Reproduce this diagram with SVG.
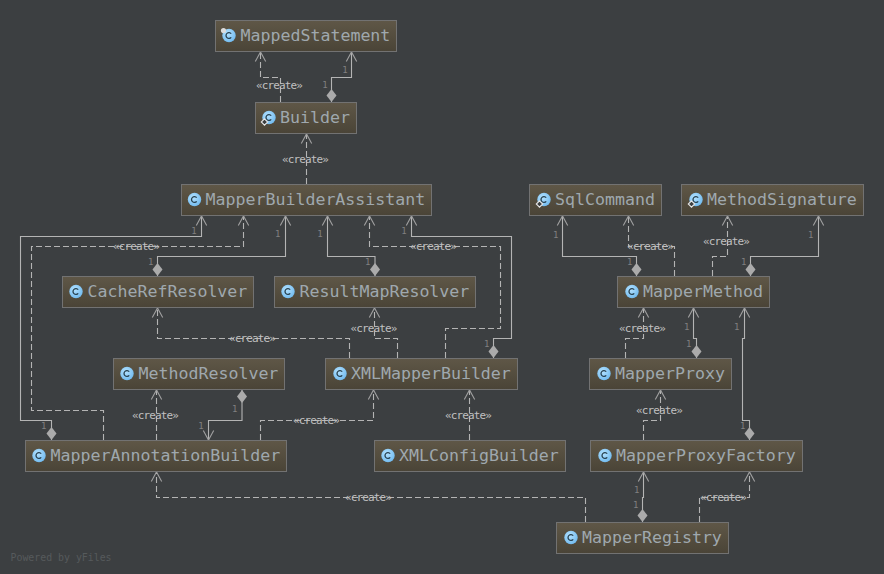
<svg xmlns="http://www.w3.org/2000/svg" xmlns:xlink="http://www.w3.org/1999/xlink" width="884" height="574" viewBox="0 0 884 574">
<style>
.n rect{fill:url(#nodeFill);stroke:#727272;stroke-width:1}
.n text{font-family:"DejaVu Sans Mono","Liberation Mono",monospace;font-size:16.6px;fill:#9fa8ae}
.e{fill:none;stroke:#b4b4b4;stroke-width:1.1;marker-end:url(#arrow)}
.s{marker-start:url(#diamond)}
.d{stroke-dasharray:6 3}
.l{font-family:"DejaVu Sans Mono","Liberation Mono",monospace;font-size:11px;letter-spacing:-0.9px;fill:#c0c0c0;text-anchor:middle}
.m{font-family:"DejaVu Sans Mono","Liberation Mono",monospace;font-size:9px;fill:#808080;text-anchor:middle}
.w{font-family:"DejaVu Sans Mono","Liberation Mono",monospace;font-size:9.9px;fill:#565a5c}
</style>
<defs>
<linearGradient id="nodeFill" x1="0" y1="0" x2="0" y2="1"><stop offset="0" stop-color="#5f5747"/><stop offset="1" stop-color="#4a4437"/></linearGradient>
<radialGradient id="ball" cx="0.4" cy="0.35" r="0.7"><stop offset="0" stop-color="#b4e2ff"/><stop offset="1" stop-color="#6fb9ee"/></radialGradient>
<marker id="arrow" markerUnits="userSpaceOnUse" markerWidth="14" markerHeight="14" refX="11" refY="6" orient="auto" overflow="visible"><path d="M1.5 0.8L11 6L1.5 11.2" fill="none" stroke="#a0a0a0" stroke-width="1.1"/></marker>
<marker id="diamond" markerUnits="userSpaceOnUse" markerWidth="14" markerHeight="12" refX="0" refY="5" orient="auto" overflow="visible"><path d="M0 5L6.5 0L13 5L6.5 10Z" fill="#ababab"/></marker>
<g id="cls"><circle r="6.7" fill="url(#ball)"/><path d="M2.2 -1.8A2.9 2.9 0 1 0 2.2 1.8" fill="none" stroke="#26404f" stroke-width="1.3"/></g>
<path id="inner" d="M0 -3.2L3.2 0L0 3.2L-3.2 0Z" fill="#3c3f41" stroke="#e6e6e6" stroke-width="1.1"/>
<circle id="pin" r="2.6" fill="#dcdcdc"/>
</defs>
<rect width="884" height="574" fill="#3c3f41"/>
<g id="connectors">
<path class="e d" d="M280.5 102V77.5H260.5V52"/>
<path class="e s" d="M331.5 102V77.5H351.5V52"/>
<path class="e d" d="M306.5 184V134"/>
<path class="e s" d="M51.5 440V420.5H20.5V236.5H201.5V216"/>
<path class="e d" d="M103.5 440V410.5H31.5V246.5H243.5V216"/>
<path class="e s" d="M157.5 276V256.5H285.5V216"/>
<path class="e s" d="M375 276V256.5H327.5V216"/>
<path class="e d" d="M445.5 358V328.5H500.5V246.5H369.5V216"/>
<path class="e s" d="M493.5 358V338.5H511.5V236.5H411.5V216"/>
<path class="e d" d="M349.5 358V338.5H157.5V308"/>
<path class="e d" d="M397.5 358V338.5H374.5V308"/>
<path class="e d" d="M156.5 440V390"/>
<path class="e s" d="M242 390V420.5H208.5V440"/>
<path class="e d" d="M260.5 440V420.5H373.5V390"/>
<path class="e d" d="M469.5 440V390"/>
<path class="e s" d="M636.5 276V256.5H562.5V216"/>
<path class="e d" d="M674.5 276V246.5H628.5V216"/>
<path class="e d" d="M712.5 276V256.5H727.5V216"/>
<path class="e s" d="M750.5 276V256.5H818.5V216"/>
<path class="e d" d="M625.5 358V338.5H643.5V308"/>
<path class="e s" d="M696.5 358V338.5H693.5V308"/>
<path class="e s" d="M749.5 440V420.5H742.5V338.5H744.5V308"/>
<path class="e d" d="M643.5 440V420.5H660.5V390"/>
<path class="e s" d="M642.5 522V497.5H643.5V472"/>
<path class="e d" d="M699.5 522V497.5H749.5V472"/>
<path class="e d" d="M585.5 522V497.5H156.5V472"/>
<text class="l" x="279" y="89">«create»</text>
<text class="l" x="305" y="162.5">«create»</text>
<text class="l" x="136" y="250">«create»</text>
<text class="l" x="433" y="250">«create»</text>
<text class="l" x="252" y="342">«create»</text>
<text class="l" x="373.5" y="332">«create»</text>
<text class="l" x="155" y="419">«create»</text>
<text class="l" x="316" y="424">«create»</text>
<text class="l" x="468" y="419">«create»</text>
<text class="l" x="650" y="250">«create»</text>
<text class="l" x="726" y="245">«create»</text>
<text class="l" x="642" y="332">«create»</text>
<text class="l" x="659" y="414">«create»</text>
<text class="l" x="723" y="501">«create»</text>
<text class="l" x="368" y="501">«create»</text>
<text class="m" x="345" y="73">1</text>
<text class="m" x="325" y="88">1</text>
<text class="m" x="194" y="234">1</text>
<text class="m" x="277.7" y="237">1</text>
<text class="m" x="150.7" y="265">1</text>
<text class="m" x="320" y="237">1</text>
<text class="m" x="367.7" y="265">1</text>
<text class="m" x="404" y="234">1</text>
<text class="m" x="486.7" y="346.5">1</text>
<text class="m" x="43.7" y="429">1</text>
<text class="m" x="234.7" y="412">1</text>
<text class="m" x="201" y="429">1</text>
<text class="m" x="555.7" y="237.5">1</text>
<text class="m" x="629.7" y="264.5">1</text>
<text class="m" x="810.7" y="237.5">1</text>
<text class="m" x="743.7" y="264.5">1</text>
<text class="m" x="686.7" y="330">1</text>
<text class="m" x="688.7" y="346.5">1</text>
<text class="m" x="736.7" y="330">1</text>
<text class="m" x="742.7" y="428.5">1</text>
<text class="m" x="636.7" y="492.5">1</text>
<text class="m" x="635.7" y="507.5">1</text>
</g>
<g id="MappedStatement" class="n"><rect x="215.5" y="20.5" width="181" height="31"/><use xlink:href="#cls" x="229" y="35.5"/><use xlink:href="#pin" x="223.5" y="30.5"/><text x="240.5" y="41">MappedStatement</text></g>
<g id="Builder" class="n"><rect x="255.5" y="102.5" width="101" height="31"/><use xlink:href="#cls" x="269" y="117.5"/><use xlink:href="#inner" x="264.5" y="122"/><text x="280" y="123">Builder</text></g>
<g id="MapperBuilderAssistant" class="n"><rect x="181.5" y="184.5" width="250" height="31"/><use xlink:href="#cls" x="194.5" y="199.5"/><text x="205.5" y="205">MapperBuilderAssistant</text></g>
<g id="CacheRefResolver" class="n"><rect x="62.5" y="276.5" width="191" height="31"/><use xlink:href="#cls" x="76" y="291.5"/><text x="87.5" y="297">CacheRefResolver</text></g>
<g id="ResultMapResolver" class="n"><rect x="274.5" y="276.5" width="201" height="31"/><use xlink:href="#cls" x="288" y="291.5"/><text x="299.5" y="297">ResultMapResolver</text></g>
<g id="MethodResolver" class="n"><rect x="113.5" y="358.5" width="171" height="31"/><use xlink:href="#cls" x="127" y="373.5"/><text x="138.5" y="379">MethodResolver</text></g>
<g id="XMLMapperBuilder" class="n"><rect x="325.5" y="358.5" width="192" height="31"/><use xlink:href="#cls" x="340" y="373.5"/><text x="351" y="379">XMLMapperBuilder</text></g>
<g id="MapperAnnotationBuilder" class="n"><rect x="25.5" y="440.5" width="261" height="31"/><use xlink:href="#cls" x="39" y="455.5"/><text x="50.5" y="461">MapperAnnotationBuilder</text></g>
<g id="XMLConfigBuilder" class="n"><rect x="374.5" y="440.5" width="191" height="31"/><use xlink:href="#cls" x="388" y="455.5"/><text x="399" y="461">XMLConfigBuilder</text></g>
<g id="SqlCommand" class="n"><rect x="529.5" y="184.5" width="132" height="31"/><use xlink:href="#cls" x="544" y="199.5"/><use xlink:href="#inner" x="539.5" y="204"/><text x="555" y="205">SqlCommand</text></g>
<g id="MethodSignature" class="n"><rect x="681.5" y="184.5" width="182" height="31"/><use xlink:href="#cls" x="696" y="199.5"/><use xlink:href="#inner" x="691.5" y="204"/><text x="707" y="205">MethodSignature</text></g>
<g id="MapperMethod" class="n"><rect x="617.5" y="276.5" width="152" height="31"/><use xlink:href="#cls" x="632" y="291.5"/><text x="643" y="297">MapperMethod</text></g>
<g id="MapperProxy" class="n"><rect x="589.5" y="358.5" width="142" height="31"/><use xlink:href="#cls" x="604" y="373.5"/><text x="615" y="379">MapperProxy</text></g>
<g id="MapperProxyFactory" class="n"><rect x="590.5" y="440.5" width="212" height="31"/><use xlink:href="#cls" x="605" y="455.5"/><text x="616" y="461">MapperProxyFactory</text></g>
<g id="MapperRegistry" class="n"><rect x="556.5" y="522.5" width="172" height="31"/><use xlink:href="#cls" x="571" y="537.5"/><text x="582" y="543">MapperRegistry</text></g>
<text class="w" x="10.5" y="561">Powered by yFiles</text>
</svg>
